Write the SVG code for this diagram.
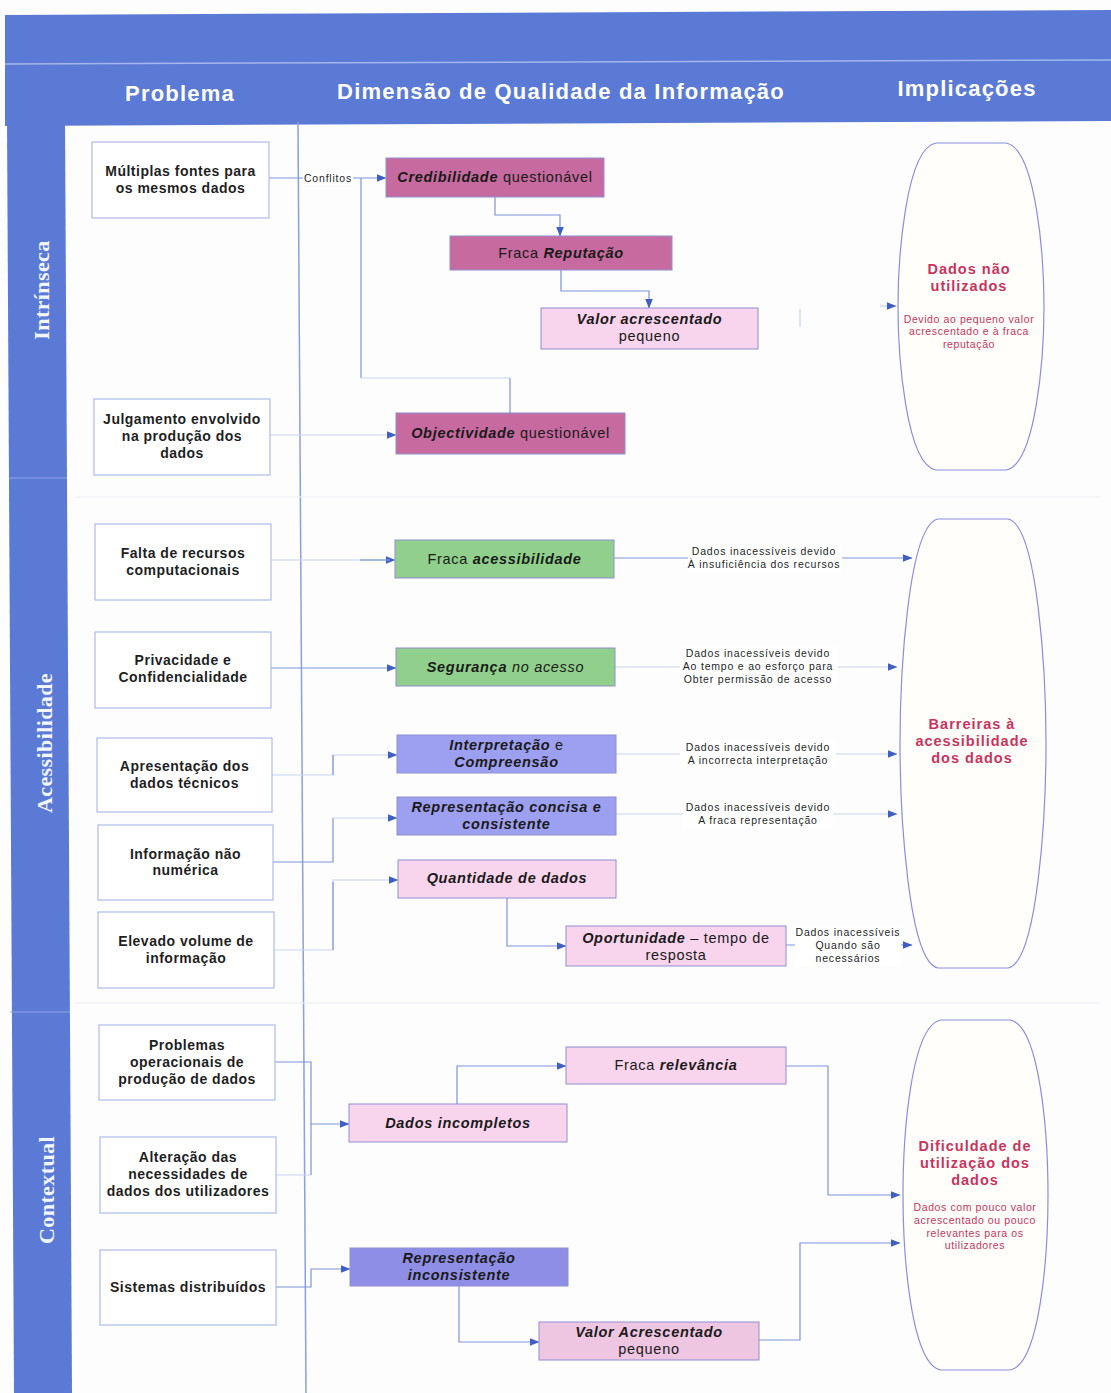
<svg xmlns="http://www.w3.org/2000/svg" width="1111" height="1393" viewBox="0 0 1111 1393">
  <defs>
    <marker id="arr" markerWidth="10" markerHeight="8" refX="9.5" refY="4" orient="auto" markerUnits="userSpaceOnUse">
      <path d="M0,0 L10,4 L0,8 Z" fill="#3f5fc2"/>
    </marker>
    <style>
      .hdr { font-family: "Liberation Sans", Arial, sans-serif; font-weight: bold; font-size: 22px; fill: #ffffff; text-anchor: middle; letter-spacing: 1.2px; }
      .band { font-family: "Liberation Serif", "Times New Roman", serif; font-weight: bold; font-size: 22px; fill: #f4f6ff; text-anchor: middle; letter-spacing: 0.4px; }
      .pbox { fill: #ffffff; stroke: #aebde9; stroke-width: 1.2; }
      .ptxt { font-family: "Liberation Sans", Arial, sans-serif; font-weight: bold; font-size: 14px; fill: #1f1f1f; text-anchor: middle; letter-spacing: 0.5px; }
      .dbox { stroke: #8e90d2; stroke-width: 1; }
      .mag { fill: #c66aa0; }
      .pink { fill: #f8d5ed; }
      .pink2 { fill: #efc6e2; }
      .green { fill: #90d08c; }
      .peri { fill: #9da0f0; }
      .peri2 { fill: #8e8ee6; }
      .dtxt { font-family: "Liberation Sans", Arial, sans-serif; font-weight: bold; font-size: 14.5px; fill: #1a1a1a; text-anchor: middle; letter-spacing: 0.7px; }
      .it { font-style: italic; }
      .rg { font-weight: normal; font-style: normal; }
      .rgi { font-weight: normal; }
      .lbl { font-family: "Liberation Sans", Arial, sans-serif; font-size: 10.5px; fill: #1f1f1f; text-anchor: middle; letter-spacing: 0.8px; }
      .imp { fill: #fffefa; stroke: #8a8de0; stroke-width: 1.2; }
      .impT { font-family: "Liberation Sans", Arial, sans-serif; font-weight: bold; font-size: 14.5px; fill: #c8345e; text-anchor: middle; letter-spacing: 1px; }
      .impS { font-family: "Liberation Sans", Arial, sans-serif; font-size: 10.5px; fill: #c8345e; text-anchor: middle; letter-spacing: 0.6px; }
      .ln { fill: none; stroke: #7d95dd; stroke-width: 1.2; }
      .lnf { fill: none; stroke: #c9d4f0; stroke-width: 1.2; }
      .bg { fill: #ffffff; }
    </style>
  </defs>

  <!-- page -->
  <rect x="0" y="0" width="1111" height="1393" fill="#fdfdfd"/>

  <!-- header band and side band -->
  <g id="frame">
    <path d="M5,15 L1111,10 L1111,121 L5,126 Z" fill="#5a7ad6"/>
    <line x1="5" y1="64" x2="1111" y2="60" stroke="#a4b6ec" stroke-width="1.5"/>
    <path d="M7,120 L65,120 L72,1393 L14,1393 Z" fill="#5a7ad6"/>
    <line x1="9" y1="478" x2="67" y2="478" stroke="#8ea3e6" stroke-width="1.2"/>
    <line x1="10" y1="1012" x2="70" y2="1012" stroke="#8ea3e6" stroke-width="1.2"/>
    <line x1="298" y1="122" x2="306" y2="1393" stroke="#8aa0e0" stroke-width="1.5"/>
    <line x1="75" y1="497" x2="1100" y2="497" stroke="#eceff7" stroke-width="1.2"/>
    <line x1="75" y1="1003" x2="1100" y2="1003" stroke="#eceff7" stroke-width="1.2"/>
    <text class="hdr" x="180" y="101">Problema</text>
    <text class="hdr" x="561" y="99">Dimensão de Qualidade da Informação</text>
    <text class="hdr" x="967" y="96">Implicações</text>
    <text class="band" transform="translate(49,290) rotate(-90)">Intrínseca</text>
    <text class="band" transform="translate(52,743) rotate(-90)">Acessibilidade</text>
    <text class="band" transform="translate(54,1190) rotate(-90)">Contextual</text>
  </g>

  <!-- connectors -->
  <g id="connectors">
    <path class="ln" d="M269,178 H386" marker-end="url(#arr)"/>
    <path class="ln" d="M361,178 V378"/>
    <path class="lnf" d="M361,378 H510"/>
    <path class="ln" d="M510,378 V413"/>
    <path class="lnf" d="M270,435 H396" marker-end="url(#arr)"/>
    <path class="ln" d="M495,197 V215 H560 V236" marker-end="url(#arr)"/>
    <path class="ln" d="M561,270 V291 H649 V308" marker-end="url(#arr)"/>
    <path class="lnf" d="M880,306 H896" marker-end="url(#arr)"/>
    <path class="lnf" d="M800,309 V327"/>

    <path class="lnf" d="M271,560 H395" marker-end="url(#arr)"/>
    <path class="ln" d="M360,560 H390"/>
    <path class="ln" d="M271,668 H396" marker-end="url(#arr)"/>
    <path class="ln" d="M614,558 H912" marker-end="url(#arr)"/>
    <path class="lnf" d="M615,667 H897" marker-end="url(#arr)"/>
    <path class="lnf" d="M616,754 H897" marker-end="url(#arr)"/>
    <path class="lnf" d="M616,814 H897" marker-end="url(#arr)"/>
    <path class="ln" d="M786,945 H912" marker-end="url(#arr)"/>
    <path class="lnf" d="M272,775 H333 V755 H397" marker-end="url(#arr)"/>
    <path class="ln" d="M333,775 V755"/>
    <path class="ln" d="M273,862 H333 V818"/>
    <path class="lnf" d="M333,818 H397" marker-end="url(#arr)"/>
    <path class="lnf" d="M274,950 H333 V880 H398" marker-end="url(#arr)"/>
    <path class="ln" d="M333,950 V882"/>
    <path class="ln" d="M507,898 V946 H566" marker-end="url(#arr)"/>

    <path class="ln" d="M275,1062 H311 V1175"/>
    <path class="lnf" d="M276,1175 H311"/>
    <path class="ln" d="M311,1124 H349" marker-end="url(#arr)"/>
    <path class="ln" d="M276,1287 H311 V1269 H350" marker-end="url(#arr)"/>
    <path class="ln" d="M457,1104 V1066 H566" marker-end="url(#arr)"/>
    <path class="ln" d="M786,1066 H828 V1195 H900" marker-end="url(#arr)"/>
    <path class="ln" d="M459,1286 V1342 H539" marker-end="url(#arr)"/>
    <path class="ln" d="M759,1340 H800 V1243 H900" marker-end="url(#arr)"/>

    <!-- connector labels -->
    <rect class="bg" x="303" y="171" width="50" height="14"/>
    <text class="lbl" x="328" y="182" letter-spacing="0.6">Conflitos</text>
    <rect class="bg" x="688" y="545" width="154" height="27"/>
    <text class="lbl" x="764" y="555">Dados inacessíveis devido</text>
    <text class="lbl" x="764" y="568">À insuficiência dos recursos</text>
    <rect class="bg" x="680" y="646" width="158" height="41"/>
    <text class="lbl" x="758" y="657">Dados inacessíveis devido</text>
    <text class="lbl" x="758" y="670">Ao tempo e ao esforço para</text>
    <text class="lbl" x="758" y="683">Obter permissão de acesso</text>
    <rect class="bg" x="680" y="740" width="156" height="28"/>
    <text class="lbl" x="758" y="751">Dados inacessíveis devido</text>
    <text class="lbl" x="758" y="764">A incorrecta interpretação</text>
    <rect class="bg" x="683" y="800" width="150" height="28"/>
    <text class="lbl" x="758" y="811">Dados inacessíveis devido</text>
    <text class="lbl" x="758" y="824">A fraca representação</text>
    <rect class="bg" x="795" y="925" width="106" height="41"/>
    <text class="lbl" x="848" y="936">Dados inacessíveis</text>
    <text class="lbl" x="848" y="949">Quando são</text>
    <text class="lbl" x="848" y="962">necessários</text>
  </g>

  <!-- problems -->
  <g id="p-multiplas">
    <rect class="pbox" x="92" y="142" width="177" height="76"/>
    <text class="ptxt" x="180.5" y="176">Múltiplas fontes para</text>
    <text class="ptxt" x="180.5" y="193">os mesmos dados</text>
  </g>
  <g id="p-julgamento">
    <rect class="pbox" x="94" y="399" width="176" height="76"/>
    <text class="ptxt" x="182" y="424">Julgamento envolvido</text>
    <text class="ptxt" x="182" y="441">na produção dos</text>
    <text class="ptxt" x="182" y="458">dados</text>
  </g>
  <g id="p-falta">
    <rect class="pbox" x="95" y="524" width="176" height="76"/>
    <text class="ptxt" x="183" y="558">Falta de recursos</text>
    <text class="ptxt" x="183" y="575">computacionais</text>
  </g>
  <g id="p-privacidade">
    <rect class="pbox" x="95" y="632" width="176" height="76"/>
    <text class="ptxt" x="183" y="665">Privacidade e</text>
    <text class="ptxt" x="183" y="682">Confidencialidade</text>
  </g>
  <g id="p-apresentacao">
    <rect class="pbox" x="97" y="738" width="175" height="74"/>
    <text class="ptxt" x="184.5" y="771">Apresentação dos</text>
    <text class="ptxt" x="184.5" y="788">dados técnicos</text>
  </g>
  <g id="p-informacao">
    <rect class="pbox" x="98" y="825" width="175" height="75"/>
    <text class="ptxt" x="185.5" y="859">Informação não</text>
    <text class="ptxt" x="185.5" y="875">numérica</text>
  </g>
  <g id="p-volume">
    <rect class="pbox" x="98" y="912" width="176" height="76"/>
    <text class="ptxt" x="186" y="946">Elevado volume de</text>
    <text class="ptxt" x="186" y="963">informação</text>
  </g>
  <g id="p-operacionais">
    <rect class="pbox" x="99" y="1025" width="176" height="75"/>
    <text class="ptxt" x="187" y="1050">Problemas</text>
    <text class="ptxt" x="187" y="1067">operacionais de</text>
    <text class="ptxt" x="187" y="1084">produção de dados</text>
  </g>
  <g id="p-alteracao">
    <rect class="pbox" x="100" y="1137" width="176" height="76"/>
    <text class="ptxt" x="188" y="1162">Alteração das</text>
    <text class="ptxt" x="188" y="1179">necessidades de</text>
    <text class="ptxt" x="188" y="1196">dados dos utilizadores</text>
  </g>
  <g id="p-sistemas">
    <rect class="pbox" x="100" y="1250" width="176" height="75"/>
    <text class="ptxt" x="188" y="1292">Sistemas distribuídos</text>
  </g>

  <!-- quality dimensions -->
  <g id="d-credibilidade">
    <rect class="dbox mag" x="386" y="158" width="218" height="39"/>
    <text class="dtxt" x="495" y="182"><tspan class="it">Credibilidade</tspan><tspan class="rg"> questionável</tspan></text>
  </g>
  <g id="d-reputacao">
    <rect class="dbox mag" x="450" y="236" width="222" height="34"/>
    <text class="dtxt" x="561" y="258"><tspan class="rg">Fraca </tspan><tspan class="it">Reputação</tspan></text>
  </g>
  <g id="d-valor1">
    <rect class="dbox pink" x="541" y="308" width="217" height="41"/>
    <text class="dtxt it" x="649.5" y="324">Valor acrescentado</text>
    <text class="dtxt rg" x="649.5" y="341">pequeno</text>
  </g>
  <g id="d-objectividade">
    <rect class="dbox mag" x="396" y="413" width="229" height="41"/>
    <text class="dtxt" x="510.5" y="438"><tspan class="it">Objectividade</tspan><tspan class="rg"> questionável</tspan></text>
  </g>
  <g id="d-acessibilidade">
    <rect class="dbox green" x="395" y="540" width="219" height="38"/>
    <text class="dtxt" x="504.5" y="564"><tspan class="rg">Fraca </tspan><tspan class="it">acessibilidade</tspan></text>
  </g>
  <g id="d-seguranca">
    <rect class="dbox green" x="396" y="648" width="219" height="38"/>
    <text class="dtxt it" x="505.5" y="672">Segurança <tspan class="rgi">no acesso</tspan></text>
  </g>
  <g id="d-interpretacao">
    <rect class="dbox peri" x="397" y="735" width="219" height="38"/>
    <text class="dtxt it" x="506.5" y="750">Interpretação <tspan class="rg">e</tspan></text>
    <text class="dtxt it" x="506.5" y="767">Compreensão</text>
  </g>
  <g id="d-representacao">
    <rect class="dbox peri" x="397" y="797" width="219" height="38"/>
    <text class="dtxt it" x="506.5" y="812">Representação concisa e</text>
    <text class="dtxt it" x="506.5" y="829">consistente</text>
  </g>
  <g id="d-quantidade">
    <rect class="dbox pink" x="398" y="860" width="218" height="38"/>
    <text class="dtxt it" x="507" y="883">Quantidade de dados</text>
  </g>
  <g id="d-oportunidade">
    <rect class="dbox pink" x="566" y="926" width="220" height="40"/>
    <text class="dtxt" x="676" y="943"><tspan class="it">Oportunidade</tspan><tspan class="rg"> – tempo de</tspan></text>
    <text class="dtxt rg" x="676" y="960">resposta</text>
  </g>
  <g id="d-relevancia">
    <rect class="dbox pink" x="566" y="1047" width="220" height="37"/>
    <text class="dtxt" x="676" y="1070"><tspan class="rg">Fraca </tspan><tspan class="it">relevância</tspan></text>
  </g>
  <g id="d-incompletos">
    <rect class="dbox pink" x="349" y="1104" width="218" height="38"/>
    <text class="dtxt it" x="458" y="1128">Dados incompletos</text>
  </g>
  <g id="d-inconsistente">
    <rect class="dbox peri2" x="350" y="1248" width="218" height="38"/>
    <text class="dtxt it" x="459" y="1263">Representação</text>
    <text class="dtxt it" x="459" y="1280">inconsistente</text>
  </g>
  <g id="d-valor2">
    <rect class="dbox pink2" x="539" y="1322" width="220" height="38"/>
    <text class="dtxt it" x="649" y="1337">Valor Acrescentado</text>
    <text class="dtxt rg" x="649" y="1354">pequeno</text>
  </g>

  <!-- implications -->
  <g id="i-nao-utilizados">
    <path class="imp" d="M936,143 L1006,143 C1036,148 1044,257 1044,306.5 C1044,356 1036,465 1006,470 L936,470 C906,465 898,356 898,306.5 C898,257 906,148 936,143 Z"/>
    <text class="impT" x="969" y="274">Dados não</text>
    <text class="impT" x="969" y="291">utilizados</text>
    <text class="impS" x="969" y="323">Devido ao pequeno valor</text>
    <text class="impS" x="969" y="335">acrescentado e à fraca</text>
    <text class="impS" x="969" y="348">reputação</text>
  </g>
  <g id="i-barreiras">
    <path class="imp" d="M938,519 L1008,519 C1038,525 1046,676 1046,743.5 C1046,811 1038,962 1008,968 L938,968 C908,962 900,811 900,743.5 C900,676 908,525 938,519 Z"/>
    <text class="impT" x="972" y="729">Barreiras à</text>
    <text class="impT" x="972" y="746">acessibilidade</text>
    <text class="impT" x="972" y="763">dos dados</text>
  </g>
  <g id="i-dificuldade">
    <path class="imp" d="M941,1020 L1010,1020 C1040,1025 1048,1135 1048,1195 C1048,1255 1040,1365 1010,1370 L941,1370 C911,1365 903,1255 903,1195 C903,1135 911,1025 941,1020 Z"/>
    <text class="impT" x="975" y="1151">Dificuldade de</text>
    <text class="impT" x="975" y="1168">utilização dos</text>
    <text class="impT" x="975" y="1185">dados</text>
    <text class="impS" x="975" y="1211">Dados com pouco valor</text>
    <text class="impS" x="975" y="1224">acrescentado ou pouco</text>
    <text class="impS" x="975" y="1237">relevantes para os</text>
    <text class="impS" x="975" y="1249">utilizadores</text>
  </g>
</svg>
